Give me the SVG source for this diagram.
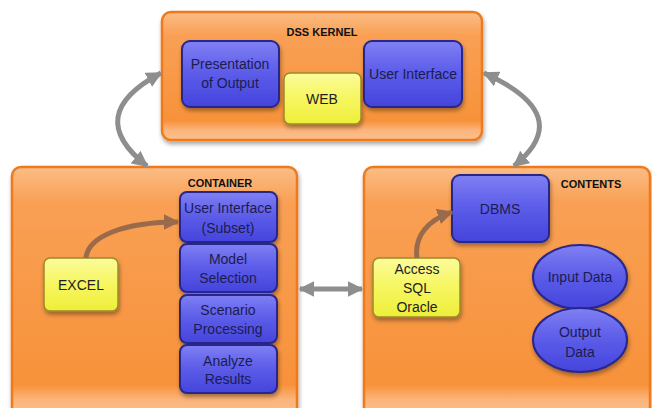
<svg xmlns="http://www.w3.org/2000/svg" width="652" height="408" viewBox="0 0 652 408">
<defs>
<linearGradient id="gOrange" x1="0" y1="0" x2="0" y2="1">
<stop offset="0" stop-color="#fbbd86"/>
<stop offset="0.18" stop-color="#f9a055"/>
<stop offset="0.85" stop-color="#f7923a"/>
<stop offset="0.92" stop-color="#fbb47a"/>
<stop offset="1" stop-color="#fcc08e"/>
</linearGradient>
<linearGradient id="gOrange2" x1="0" y1="0" x2="0" y2="1">
<stop offset="0" stop-color="#fbbd86"/>
<stop offset="0.14" stop-color="#f9a055"/>
<stop offset="0.87" stop-color="#f7923a"/>
<stop offset="0.93" stop-color="#fbb47a"/>
<stop offset="1" stop-color="#fcc08e"/>
</linearGradient>
<linearGradient id="gBlue" x1="0" y1="0" x2="0" y2="1">
<stop offset="0" stop-color="#8080f4"/>
<stop offset="0.45" stop-color="#5e5eea"/>
<stop offset="1" stop-color="#4444dc"/>
</linearGradient>
<linearGradient id="gYellow" x1="0" y1="0" x2="0" y2="1">
<stop offset="0" stop-color="#fbfb9a"/>
<stop offset="0.5" stop-color="#f6f660"/>
<stop offset="1" stop-color="#eeee3a"/>
</linearGradient>
<filter id="sh" x="-20%" y="-20%" width="140%" height="150%">
<feDropShadow dx="1" dy="3" stdDeviation="2" flood-color="#000" flood-opacity="0.35"/>
</filter>
<marker id="gh" viewBox="0 0 10 10" refX="9" refY="5" markerWidth="16" markerHeight="16" markerUnits="userSpaceOnUse" orient="auto-start-reverse">
<path d="M0 0 L10 5 L0 10 Z" fill="#8e8e8e"/>
</marker>
<marker id="bh" viewBox="0 0 10 10" refX="9" refY="5" markerWidth="16" markerHeight="16" markerUnits="userSpaceOnUse" orient="auto">
<path d="M0 0 L10 5 L0 10 Z" fill="#9a6b4a"/>
</marker>
<style>
.box{stroke:#ef7a1c;stroke-width:2.5;filter:url(#sh)}
.blue{fill:url(#gBlue);stroke:#26268c;stroke-width:2;filter:url(#sh)}
.yel{fill:url(#gYellow);stroke:#9c8a26;stroke-width:1.5;filter:url(#sh)}
.t{font-family:"Liberation Sans",Arial,sans-serif;font-size:14px;fill:#1c1c50;text-anchor:middle}
.ty{font-family:"Liberation Sans",Arial,sans-serif;font-size:14px;fill:#1e1e1e;text-anchor:middle}
.title{font-family:"Liberation Sans",Arial,sans-serif;font-size:11px;font-weight:bold;fill:#111;text-anchor:middle}
.gray{fill:none;stroke:#8e8e8e;stroke-width:5;marker-start:url(#gh);marker-end:url(#gh)}
.brown{fill:none;stroke:#9a6b4a;stroke-width:5;marker-end:url(#bh)}
</style>
</defs>

<g id="dss-kernel">
<rect class="box" x="162" y="12" width="320" height="128" rx="9" fill="url(#gOrange)"/>
<text class="title" x="322" y="36">DSS KERNEL</text>
</g>
<g id="presentation">
<rect class="blue" x="182" y="41" width="97" height="66" rx="8"/>
<text class="t" x="230" y="69">Presentation</text>
<text class="t" x="230" y="88">of Output</text>
</g>
<g id="web">
<rect class="yel" x="284" y="73" width="77" height="51" rx="6"/>
<text class="ty" x="322" y="104">WEB</text>
</g>
<g id="user-interface">
<rect class="blue" x="364" y="41" width="98" height="66" rx="8"/>
<text class="t" x="413" y="79">User Interface</text>
</g>

<g id="container">
<rect class="box" x="12" y="167" width="285" height="250" rx="9" fill="url(#gOrange2)"/>
<text class="title" x="220" y="187">CONTAINER</text>
</g>
<g id="ui-subset">
<rect class="blue" x="180" y="192" width="97" height="50" rx="7"/>
<text class="t" x="228" y="213">User Interface</text>
<text class="t" x="228" y="233">(Subset)</text>
</g>
<g id="model-selection">
<rect class="blue" x="180" y="244" width="97" height="48" rx="7"/>
<text class="t" x="228" y="264">Model</text>
<text class="t" x="228" y="283">Selection</text>
</g>
<g id="scenario-processing">
<rect class="blue" x="180" y="295" width="97" height="48" rx="7"/>
<text class="t" x="228" y="315">Scenario</text>
<text class="t" x="228" y="334">Processing</text>
</g>
<g id="analyze-results">
<rect class="blue" x="180" y="345" width="97" height="48" rx="7"/>
<text class="t" x="228" y="366">Analyze</text>
<text class="t" x="228" y="384">Results</text>
</g>
<g id="excel">
<rect class="yel" x="44" y="258" width="74" height="53" rx="6"/>
<text class="ty" x="81" y="290">EXCEL</text>
</g>

<g id="contents">
<rect class="box" x="364" y="167" width="286" height="250" rx="9" fill="url(#gOrange2)"/>
<text class="title" x="591" y="188">CONTENTS</text>
</g>
<g id="dbms">
<rect class="blue" x="452" y="175" width="97" height="67" rx="8"/>
<text class="t" x="500" y="214">DBMS</text>
</g>
<g id="access-sql-oracle">
<rect class="yel" x="373" y="258" width="87" height="59" rx="6"/>
<text class="ty" x="417" y="274">Access</text>
<text class="ty" x="417" y="293">SQL</text>
<text class="ty" x="417" y="312">Oracle</text>
</g>
<g id="input-data">
<ellipse class="blue" cx="580" cy="277" rx="47" ry="32"/>
<text class="t" x="580" y="282">Input Data</text>
</g>
<g id="output-data">
<ellipse class="blue" cx="580" cy="340" rx="47" ry="32"/>
<text class="t" x="580" y="337">Output</text>
<text class="t" x="580" y="357">Data</text>
</g>

<g id="connectors">
<path class="gray" d="M147 166 Q82 115 161 73"/>
<path class="gray" d="M514 166 Q577 115 484 73"/>
<path class="gray" d="M300 289 L362 289"/>
<path class="brown" d="M86 258 C88 236 125 222 178 222"/>
<path class="brown" d="M417 258 C414 236 428 220 452 212"/>
</g>
</svg>
